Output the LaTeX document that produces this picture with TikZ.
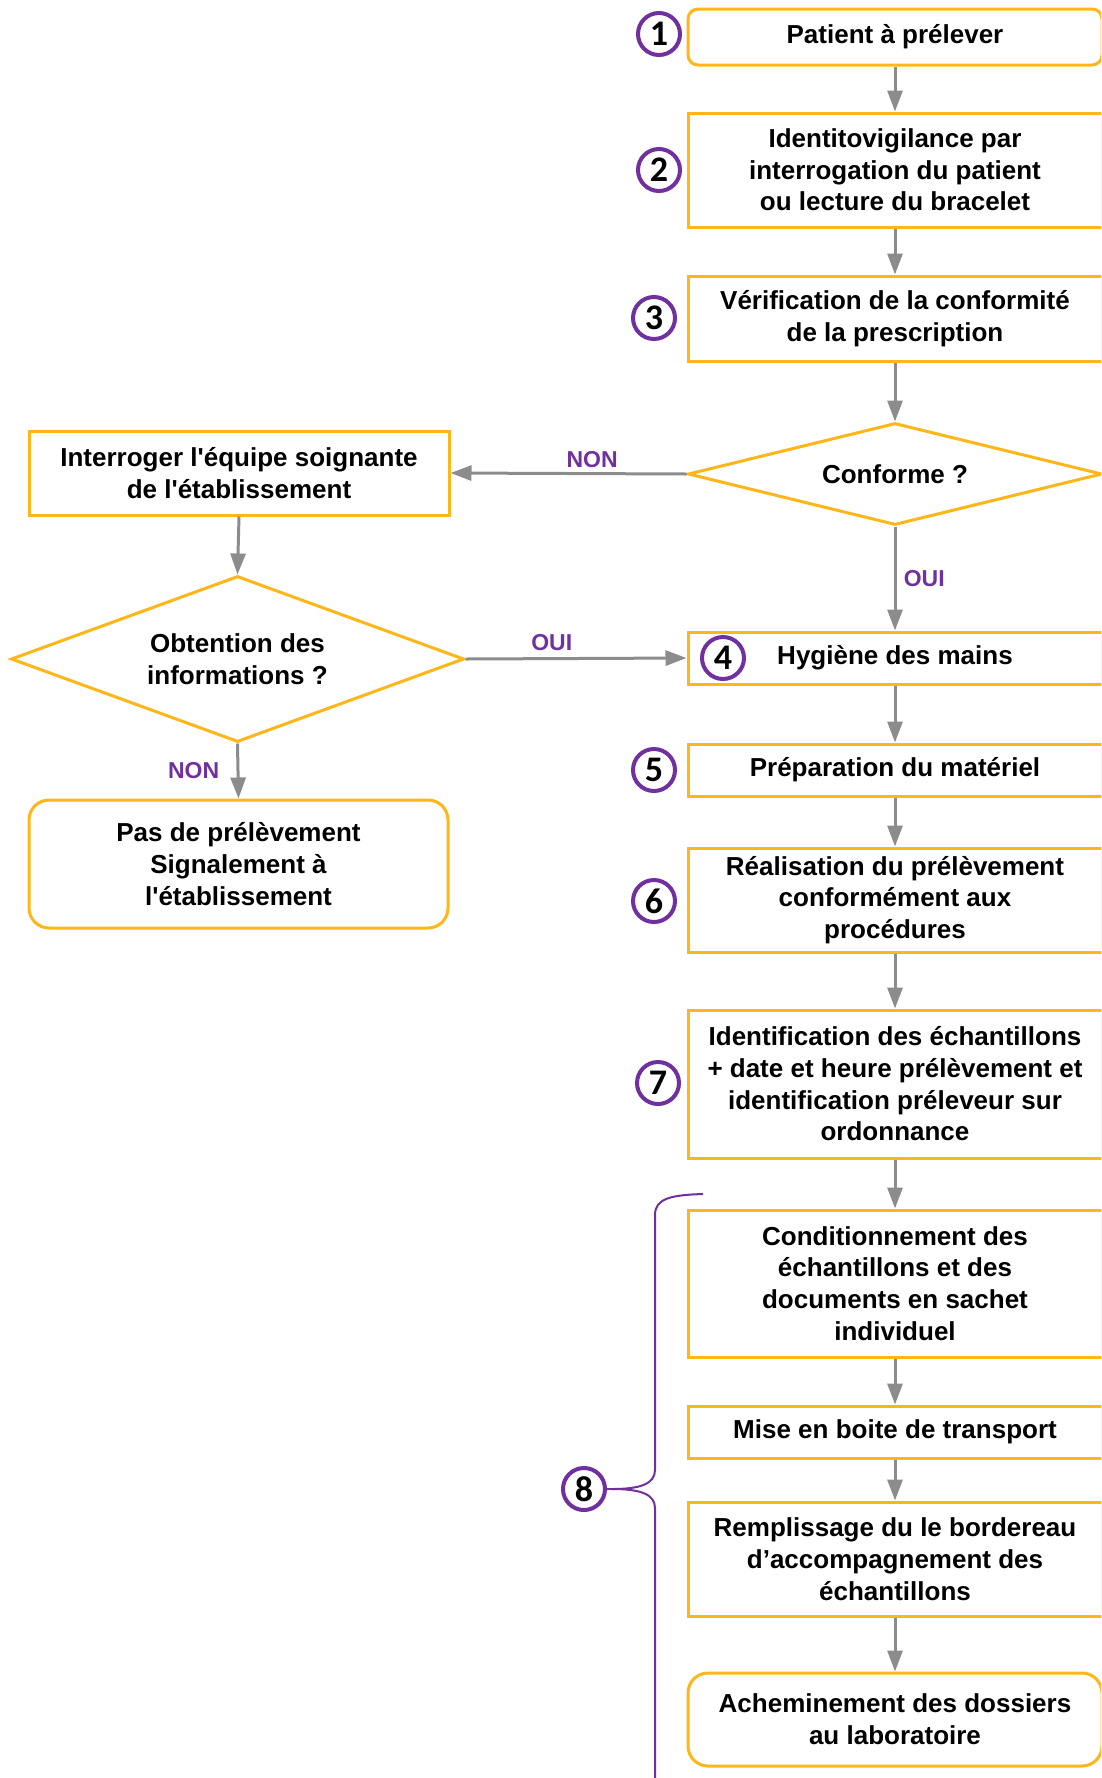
\documentclass[tikz,border=0pt]{standalone}
\usepackage{fontspec}
\setmainfont{Liberation Sans}[Ligatures=TeXOff]
\newfontfamily\numfont{Carlito}
\usetikzlibrary{shapes.geometric,arrows.meta}
\definecolor{boxor}{HTML}{FFB619}
\definecolor{purp}{HTML}{7030A0}
\definecolor{arrgray}{HTML}{8C8C8C}
\tikzset{
 box/.style={draw=boxor, line width=3pt, fill=white, align=center, inner sep=0pt, font=\fontsize{26}{31.7}\selectfont\bfseries, text=black},
 dia/.style={box, diamond},
 num/.style={circle, draw=purp, line width=4pt, fill=white, minimum size=42pt, inner sep=0pt, font=\numfont\fontsize{36}{36}\selectfont\bfseries},
 arr/.style={draw=arrgray, line width=3pt, -{Triangle[length=21pt,width=15pt]}},
 lbl/.style={text=purp, font=\fontsize{23}{23}\selectfont\bfseries},
 brace/.style={draw=purp, line width=2pt},
}
\begin{document}
\begin{tikzpicture}[x=1pt,y=-1pt]
\useasboundingbox (0,0) rectangle (1101,1778);
\clip (0,0) rectangle (1101,1778);
\fill[white] (0,0) rectangle (1101,1778);

% right column
\node[box, rounded corners=10pt, minimum width=414pt, minimum height=56pt] (b1) at (895,37) {Patient à prélever};
\node[box, minimum width=414pt, minimum height=114pt] (b2) at (895,170) {Identitovigilance par\\interrogation du patient\\ou lecture du bracelet};
\node[box, minimum width=414pt, minimum height=85pt] (b3) at (895,318.5) {Vérification de la conformité\\de la prescription};
\node[dia, aspect=4.06, minimum width=414pt, minimum height=102pt] (c1) at (895,474) {Conforme ?};
\node[box, minimum width=414pt, minimum height=52pt] (b4) at (895,658) {Hygiène des mains};
\node[box, minimum width=414pt, minimum height=52pt] (b5) at (895,770) {Préparation du matériel};
\node[box, minimum width=414pt, minimum height=104pt] (b6) at (895,900) {Réalisation du prélèvement\\conformément aux\\procédures};
\node[box, minimum width=414pt, minimum height=148pt] (b7) at (895,1084) {Identification des échantillons\\+ date et heure prélèvement et\\identification préleveur sur\\ordonnance};
\node[box, minimum width=414pt, minimum height=147pt] (b8) at (895,1283.5) {Conditionnement des\\échantillons et des\\documents en sachet\\individuel};
\node[box, minimum width=414pt, minimum height=52pt] (b9) at (895,1432) {Mise en boite de transport};
\node[box, minimum width=414pt, minimum height=114pt] (b10) at (895,1559) {Remplissage du le bordereau\\d’accompagnement des\\échantillons};
\node[box, rounded corners=20pt, minimum width=414pt, minimum height=93pt] (b11) at (895,1719.5) {Acheminement des dossiers\\au laboratoire};

% left column
\node[box, minimum width=420pt, minimum height=84pt] (q1) at (239,473) {Interroger l'équipe soignante\\de l'établissement};
\node[dia, aspect=2.73, minimum width=453pt, minimum height=166pt] (d2) at (237.5,659) {Obtention des\\informations ?};
\node[box, rounded corners=20pt, minimum width=419pt, minimum height=128pt] (p1) at (238.5,864) {Pas de prélèvement\\Signalement à\\l'établissement};

% numbers
\node[num] (n1) at (659,34) {1};
\node[num] (n2) at (659,170) {2};
\node[num] (n3) at (654,318) {3};
\node[num] (n4) at (723,658) {4};
\node[num] (n5) at (654,770) {5};
\node[num] (n6) at (654,901) {6};
\node[num] (n7) at (658,1083) {7};
\node[num] (n8) at (584,1489) {8};

% connectors
\draw[arr] (b1) -- (b2);
\draw[arr] (b2) -- (b3);
\draw[arr] (b3) -- (c1);
\draw[arr] (c1.west) -- node[lbl, above=1pt, pos=0.4] {NON} (q1.east);
\draw[arr] (c1.south) -- node[lbl, right=4pt] {OUI} (b4.north);
\draw[arr] (q1.south) -- (d2.north);
\draw[arr] (d2.east) -- node[lbl, above=3pt, pos=0.39] {OUI} (b4.west);
\draw[arr] (d2.south) -- node[lbl, left=14pt] {NON} (p1.north);
\draw[arr] (b4) -- (b5);
\draw[arr] (b5) -- (b6);
\draw[arr] (b6) -- (b7);
\draw[arr] (b7) -- (b8);
\draw[arr] (b8) -- (b9);
\draw[arr] (b9) -- (b10);
\draw[arr] (b10) -- (b11);

% brace
\coordinate (tip) at (612,1489);
\draw[brace] (703,1194) .. controls (672,1195) and (655,1198) .. (655,1215) -- (655,1470) .. controls (655,1484) and (640,1489) .. (tip);
\draw[brace] (tip) .. controls (640,1489) and (655,1494) .. (655,1508) -- (655,1800);
\draw[brace] (n8.east) -- (tip);
\end{tikzpicture}
\end{document}
